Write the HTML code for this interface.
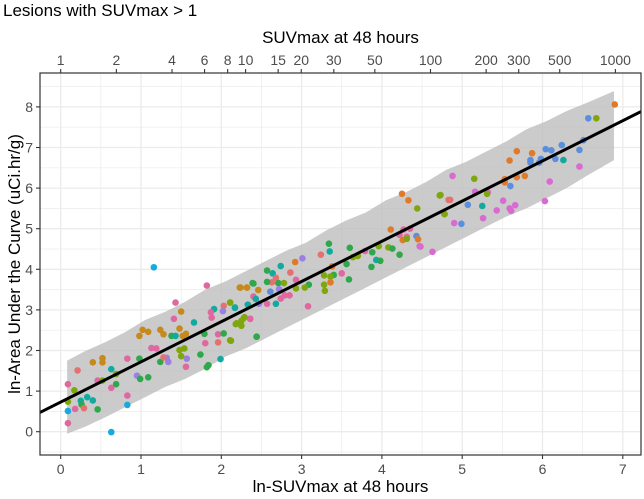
<!DOCTYPE html>
<html><head><meta charset="utf-8"><style>
html,body{margin:0;padding:0;background:#fff;}
svg{display:block;font-family:"Liberation Sans",sans-serif;}
</style></head><body>
<svg id="chart" width="644" height="499" viewBox="0 0 644 499"></svg>
<script>
const xs=[1.16,1.82,1.43,2.40,2.23,2.32,1.50,1.41,1.66,2.03,2.11,1.91,1.87,2.02,2.17,1.88,2.18,2.25,2.28,2.36,1.48,1.02,1.09,0.98,1.24,1.28,1.38,1.43,1.52,1.56,1.79,1.96,2.03,1.80,1.96,2.11,2.44,1.13,1.19,1.48,1.54,1.50,1.57,1.32,1.34,1.24,1.28,0.98,0.83,0.52,0.52,0.40,1.56,1.74,1.84,1.82,1.99,0.21,0.63,0.69,0.69,0.95,0.99,1.09,0.46,0.52,0.63,0.09,0.17,0.09,0.33,0.25,0.40,0.26,0.18,0.29,0.46,0.09,0.83,0.83,0.09,0.63,
4.25,4.33,4.73,4.44,4.78,4.83,4.11,4.27,4.35,4.22,4.26,4.31,4.31,4.43,4.45,4.48,4.63,4.08,4.13,4.22,3.96,3.88,3.87,3.93,3.98,3.79,3.70,3.64,3.60,3.56,3.50,3.59,3.34,3.35,3.24,3.01,2.92,3.38,3.40,3.36,3.28,3.28,3.29,3.36,3.09,3.04,2.93,2.93,2.86,2.74,2.64,2.57,2.68,2.63,2.57,2.71,2.78,2.39,2.46,2.32,2.24,2.61,2.72,2.79,2.85,2.74,2.57,2.68,2.40,2.43,2.33,2.47,3.08,2.11,2.17,2.36,2.19,2.25,2.29,2.44,2.12,
6.90,6.57,6.67,6.51,6.46,6.24,6.04,6.11,6.16,5.98,5.85,5.85,5.96,6.26,6.46,5.68,5.87,5.59,5.53,5.68,5.78,5.53,5.60,6.09,6.03,4.88,5.15,5.16,5.32,5.31,4.72,4.85,5.07,5.25,5.51,5.66,5.59,5.61,5.43,5.26,4.78,4.90,4.99,4.47];
const ys=[4.05,3.60,3.18,3.65,3.55,3.55,2.96,2.78,2.69,3.10,3.18,3.02,2.94,2.97,3.05,2.81,2.65,2.73,2.80,2.78,2.54,2.51,2.46,2.36,2.51,2.40,2.36,2.36,2.36,2.41,2.41,2.40,2.42,2.18,2.20,2.25,2.34,2.06,2.05,2.01,2.05,1.86,1.80,1.82,1.72,1.72,1.83,1.80,1.80,1.81,1.71,1.71,1.60,1.90,1.64,1.59,1.79,1.51,1.54,1.42,1.17,1.38,1.30,1.34,1.26,1.26,1.08,1.17,1.02,0.74,0.85,0.76,0.77,0.67,0.56,0.58,0.55,0.51,0.89,0.66,0.21,-0.01,
5.86,5.70,5.83,5.50,5.36,5.71,4.98,4.98,5.00,4.85,4.72,4.80,4.75,4.82,4.74,4.56,4.43,4.54,4.51,4.36,4.57,4.42,4.06,4.23,4.21,4.45,4.33,4.30,4.53,4.13,3.90,3.75,4.63,4.44,4.36,4.27,4.18,4.07,3.86,3.82,3.85,3.62,3.47,3.68,3.62,3.55,3.74,3.53,3.92,4.08,3.90,3.97,3.79,3.68,3.69,3.66,3.66,3.66,3.49,3.55,3.55,3.45,3.51,3.36,3.36,3.28,3.15,3.15,3.33,3.27,3.13,3.15,3.09,3.18,3.06,2.78,2.67,2.61,2.82,2.34,2.24,
8.06,7.72,7.72,7.18,6.94,7.06,6.96,6.93,6.72,6.72,6.69,6.63,6.63,6.69,6.53,6.91,6.86,6.68,6.22,6.27,6.30,6.14,6.05,6.16,5.68,6.30,6.23,5.91,5.90,5.86,5.82,5.71,5.59,5.56,5.69,5.58,5.50,5.44,5.45,5.26,5.36,5.14,5.12,4.57];
const groups=["b","k","k","g","o","o","o","k","t","r","o","t","k","u","t","k","v","v","v","k","o","o","o","o","o","o","g","t","o","o","g","k","g","k","r","v","g","k","k","v","v","v","u","u","u","g","r","g","k","o","o","o","k","g","g","g","t","r","t","v","g","u","g","g","k","v","k","k","v","v","t","t","t","g","k","r","g","b","k","b","k","b",
"p","p","v","v","v","r","p","k","k","k","p","k","v","B","p","k","m","v","g","g","v","g","g","t","g","k","v","v","g","g","k","g","g","t","r","u","p","p","g","v","v","v","v","p","g","v","k","v","r","t","t","g","r","r","g","g","v","g","o","o","o","B","u","k","k","k","k","t","k","t","t","u","k","v","t","k","v","v","v","g","v",
"p","B","v","B","B","B","B","B","B","B","B","B","B","t","m","p","p","p","p","p","p","p","B","m","m","m","v","m","m","v","v","r","B","t","m","m","m","m","m","m","v","m","B","m"];
const line=[0.73,0.99];
const bandX=[0.08,0.3,0.55,0.8,1.05,1.3,1.55,1.8,2.05,2.3,2.55,2.8,3.05,3.3,3.55,3.8,4.05,4.3,4.55,4.8,5.05,5.3,5.55,5.8,6.05,6.3,6.55,6.89];
const bandHi=[1.75,1.98,2.2,2.45,2.75,2.95,3.2,3.5,3.7,3.95,4.2,4.45,4.65,4.95,5.2,5.4,5.7,5.9,6.15,6.45,6.65,6.9,7.15,7.45,7.65,7.9,8.1,8.39];
const bandLo=[-0.05,0.12,0.35,0.6,0.85,1.1,1.3,1.55,1.85,2.05,2.3,2.55,2.8,3.05,3.3,3.55,3.8,4.05,4.3,4.55,4.8,5.05,5.3,5.5,5.75,6.0,6.3,6.69];
const xTicks=[0,1,2,3,4,5,6,7];
const yTicks=[0,1,2,3,4,5,6,7,8];
const topTicks=[1,2,4,6,8,10,15,20,30,50,100,200,300,500,1000];

const colors={r:"#E4716F",o:"#C68A1C",v:"#7FA60E",g:"#2FA84C",t:"#12AA9E",b:"#16ABE0",B:"#5B8EDC",u:"#9A80E0",k:"#E068A0",m:"#D96AD2",p:"#E07A2A"};
const L=40,R=641,T=73,B=455;
const X=v=>60.7+80.3*v, Y=v=>431.7-40.6*v;
const svg=document.getElementById('chart');
const NS="http://www.w3.org/2000/svg";
function mk(tag,attrs,parent){const e=document.createElementNS(NS,tag);for(const k in attrs)e.setAttribute(k,attrs[k]);(parent||svg).appendChild(e);return e;}

const panel=mk('rect',{x:L,y:T,width:R-L,height:B-T,fill:"#fff"});


const grid=mk('g',{});


for(let v=-0.5;v<=7.5;v+=0.5){const px=X(v);if(px<L||px>R)continue;mk('line',{x1:px,x2:px,y1:T,y2:B,stroke:"#EBEBEB","stroke-width":Number.isInteger(v)?1.3:0.7},grid);}
for(let v=-0.5;v<=9;v+=0.5){const py=Y(v);if(py<T||py>B)continue;mk('line',{x1:L,x2:R,y1:py,y2:py,stroke:"#EBEBEB","stroke-width":Number.isInteger(v)?1.3:0.7},grid);}

let d="";
bandX.forEach((x,i)=>{d+=(i?"L":"M")+X(x)+","+Y(bandHi[i]);});
for(let i=bandX.length-1;i>=0;i--)d+="L"+X(bandX[i])+","+Y(bandLo[i]);
const band=mk('path',{d:d+"Z",fill:"#BEBEBE","fill-opacity":0.8});



const pts=mk('g',{});


xs.forEach((x,i)=>{
 const c=mk('circle',{cx:X(x),cy:Y(ys[i]),r:3.3,fill:colors[groups[i]]||"#E068A0"},pts);
 
 
});

const x0=(L-60.7)/80.3,x1=(R-60.7)/80.3;
const fit=mk('line',{x1:L,y1:Y(line[0]+line[1]*x0),x2:R,y2:Y(line[0]+line[1]*x1),stroke:"#000","stroke-width":3});



const border=mk('rect',{x:L,y:T,width:R-L,height:B-T,fill:"none",stroke:"#333","stroke-width":1.2});



xTicks.forEach(v=>{
 mk('line',{x1:X(v),x2:X(v),y1:B,y2:B+4,stroke:"#333","stroke-width":1.1});
 const t=mk('text',{x:X(v),y:B+19,"text-anchor":"middle","font-size":14,fill:"#4D4D4D"});
 t.textContent=v;
 
 
});
yTicks.forEach(v=>{
 mk('line',{x1:L-4,x2:L,y1:Y(v),y2:Y(v),stroke:"#333","stroke-width":1.1});
 const t=mk('text',{x:L-7,y:Y(v)+5,"text-anchor":"end","font-size":14,fill:"#4D4D4D"});
 t.textContent=v;
 
 
});
topTicks.forEach(v=>{
 const px=X(Math.log(v));
 mk('line',{x1:px,x2:px,y1:T-4,y2:T,stroke:"#333","stroke-width":1.1});
 const t=mk('text',{x:px,y:T-8,"text-anchor":"middle","font-size":14,fill:"#4D4D4D"});
 t.textContent=v;
 
 
});
</script>
<div style="position:absolute;left:0;top:0;width:644px;height:499px;pointer-events:none;font-family:'Liberation Sans',sans-serif;color:#000;">
 <div style="position:absolute;left:3px;top:1px;font-size:17px;">Lesions with SUVmax &gt; 1</div>
 <div style="position:absolute;left:40px;width:601px;top:28px;text-align:center;font-size:17px;">SUVmax at 48 hours</div>
 <div style="position:absolute;left:40px;width:601px;top:477px;text-align:center;font-size:17px;">ln-SUVmax at 48 hours</div>
 <div style="position:absolute;left:-135px;top:254px;width:300px;text-align:center;font-size:17px;transform:rotate(-90deg);">ln-Area Under the Curve (uCi.hr/g)</div>
</div>
</body></html>
